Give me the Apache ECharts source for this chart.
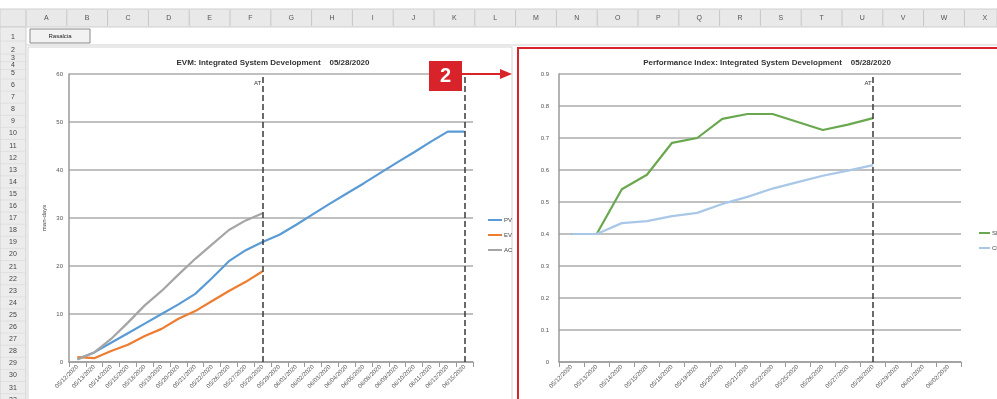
<!DOCTYPE html>
<html><head><meta charset="utf-8">
<script src="https://cdn.jsdelivr.net/npm/echarts@6/dist/echarts.min.js"></script>
<style>html,body{margin:0;padding:0;background:#fff;overflow:hidden}#c{width:997px;height:399px}</style>
</head><body><div id="c"></div>
<script>
// ---- data ----
const evmDates = ['05/12/2020','05/13/2020','05/14/2020','05/15/2020','05/18/2020','05/19/2020','05/20/2020','05/21/2020','05/22/2020','05/26/2020','05/27/2020','05/28/2020','05/29/2020','06/01/2020','06/02/2020','06/03/2020','06/04/2020','06/05/2020','06/08/2020','06/09/2020','06/10/2020','06/11/2020','06/12/2020','06/15/2020'];
const pv = [0.6, 2.0, 4.0, 6.0, 8.0, 10.0, 12.0, 14.2, 17.5, 21.0, 23.3, 25.0, 26.5, 28.6, 30.8, 33.0, 35.1, 37.2, 39.4, 41.6, 43.7, 45.9, 48.0, 48.0];
const ev = [1.0, 0.8, 2.3, 3.6, 5.4, 6.9, 9.0, 10.6, 12.7, 14.8, 16.7, 18.9];
const ac = [0.5, 2.0, 4.8, 8.2, 11.8, 14.8, 18.2, 21.5, 24.5, 27.5, 29.5, 31.0];
const piDates = ['05/12/2020','05/13/2020','05/14/2020','05/15/2020','05/18/2020','05/19/2020','05/20/2020','05/21/2020','05/22/2020','05/25/2020','05/26/2020','05/27/2020','05/28/2020','05/29/2020','06/01/2020','06/02/2020'];
const spi = [0.4, 0.4, 0.54, 0.585, 0.685, 0.70, 0.76, 0.775, 0.775, 0.75, 0.725, 0.742, 0.762];
const cpi = [0.4, 0.4, 0.434, 0.44, 0.456, 0.466, 0.494, 0.516, 0.542, 0.562, 0.582, 0.598, 0.615];
const statusDate = '05/28/2020';
const evmEndDate = '06/15/2020';
const columnLetters = ['A','B','C','D','E','F','G','H','I','J','K','L','M','N','O','P','Q','R','S','T','U','V','W','X'];
const rowNumbers = [1,2,3,4,5,6,7,8,9,10,11,12,13,14,15,16,17,18,19,20,21,22,23,24,25,26,27,28,29,30,31,32];
const evmTitle = 'EVM: Integrated System Development    05/28/2020';
const piTitle = 'Performance Index: Integrated System Development    05/28/2020';
const buttonText = 'Rasalcia';

// ---- spreadsheet frame ----
const FONT = 'Liberation Sans, Arial, sans-serif';
const g = [];
g.push({type:'rect', shape:{x:0,y:9,width:997,height:18}, style:{fill:'#e9e9e9', stroke:'#cfcfcf', lineWidth:1}, silent:true});
g.push({type:'rect', shape:{x:0,y:27,width:26,height:380}, style:{fill:'#ececec', stroke:'#cfcfcf', lineWidth:1}, silent:true});
columnLetters.forEach((L,i)=>{
  const x0 = 26 + i*40.8;
  g.push({type:'line', shape:{x1:x0,y1:10,x2:x0,y2:26}, style:{stroke:'#c6c6c6', lineWidth:1}, silent:true});
  g.push({type:'text', x:x0+20.4, y:18, style:{text:L, fill:'#555', font:'7px '+FONT, textAlign:'center', textVerticalAlign:'middle'}, silent:true});
});
rowNumbers.forEach(n=>{
  let y;
  if (n===1) y=37; else if (n<=5) y = 50 + (n-2)*7.7; else y = 73 + (n-5)*12.1;
  g.push({type:'text', x:13, y:y, style:{text:String(n), fill:'#444', font:'7px '+FONT, textAlign:'center', textVerticalAlign:'middle'}, silent:true});
  g.push({type:'line', shape:{x1:0,y1:y+(n<5?4:6),x2:26,y2:y+(n<5?4:6)}, style:{stroke:'#d6d6d6', lineWidth:0.6}, silent:true});
});
g.push({type:'line', shape:{x1:26,y1:45,x2:997,y2:45}, style:{stroke:'#d0d0d0', lineWidth:1}, silent:true});
g.push({type:'rect', shape:{x:30,y:29,width:60,height:14}, style:{fill:'#f2f2f2', stroke:'#8a8a8a', lineWidth:1}, silent:true});
g.push({type:'text', x:60, y:36, style:{text:buttonText, fill:'#222', font:'6px '+FONT, textAlign:'center', textVerticalAlign:'middle'}, silent:true});
// chart areas
g.push({type:'rect', shape:{x:28,y:47,width:484,height:360}, style:{fill:'#fff', stroke:'#d4d4d4', lineWidth:1}, silent:true});
g.push({type:'rect', shape:{x:518,y:48,width:485,height:360}, style:{fill:'#fff', stroke:'#d8232a', lineWidth:2}, silent:true});
// callout "2"
g.push({type:'rect', z:100, shape:{x:429,y:61,width:33,height:30}, style:{fill:'#d8232a'}, silent:true});
g.push({type:'text', z:101, x:445.5, y:76, style:{text:'2', fill:'#fff', font:'bold 20px '+FONT, textAlign:'center', textVerticalAlign:'middle'}, silent:true});
g.push({type:'line', z:100, shape:{x1:462,y1:74,x2:503,y2:74}, style:{stroke:'#d8232a', lineWidth:2}, silent:true});
g.push({type:'polygon', z:100, shape:{points:[[500,69],[512,74],[500,79]]}, style:{fill:'#d8232a'}, silent:true});

const axisLabelStyle = {fontSize:6, color:'#555', fontFamily:FONT};
const gridLine = {lineStyle:{color:'#ababab', width:1.5}};
const atLine = {lineStyle:{type:'dashed', color:'#3a3a3a', width:1.5}};

const option = {
  animation:false,
  backgroundColor:'#fff',
  textStyle:{fontFamily:FONT},
  graphic:g,
  title:[
    {text:evmTitle, left:268, top:54, textAlign:'center', textStyle:{fontSize:8, fontWeight:'bold', color:'#333', fontFamily:FONT}},
    {text:piTitle, left:762, top:54, textAlign:'center', textStyle:{fontSize:8, fontWeight:'bold', color:'#333', fontFamily:FONT}}
  ],
  legend:[
    {orient:'vertical', left:483, top:212, itemWidth:14, itemHeight:2, itemGap:9, icon:'rect', data:['PV','EV','AC'], textStyle:{fontSize:6, color:'#444', padding:[0,0,0,-3]}},
    {orient:'vertical', left:974, top:225, itemWidth:11, itemHeight:2, itemGap:9, icon:'rect', data:['SPI','CPI'], textStyle:{fontSize:6, color:'#444', padding:[0,0,0,-3]}}
  ],
  grid:[
    {left:69, top:74, width:404, height:288},
    {left:559, top:74, width:402, height:288}
  ],
  xAxis:[
    {type:'category', gridIndex:0, data:evmDates, boundaryGap:true,
     axisLine:{lineStyle:{color:'#9a9a9a', width:1.5}}, axisTick:{show:true, lineStyle:{color:'#9a9a9a'}},
     axisLabel:Object.assign({interval:0, rotate:45, margin:4}, axisLabelStyle)},
    {type:'category', gridIndex:1, data:piDates, boundaryGap:true,
     axisLine:{lineStyle:{color:'#9a9a9a', width:1.5}}, axisTick:{show:true, lineStyle:{color:'#9a9a9a'}},
     axisLabel:Object.assign({interval:0, rotate:45, margin:4}, axisLabelStyle)}
  ],
  yAxis:[
    {type:'value', gridIndex:0, min:0, max:60, interval:10, name:'man-days', nameLocation:'middle', nameGap:22, nameRotate:90,
     nameTextStyle:{fontSize:6, color:'#444'},
     axisLine:{show:true, lineStyle:{color:'#9a9a9a', width:1.5}}, splitLine:gridLine,
     axisLabel:Object.assign({margin:6}, axisLabelStyle)},
    {type:'value', gridIndex:1, min:0, max:0.9, interval:0.1,
     axisLine:{show:true, lineStyle:{color:'#9a9a9a', width:1.5}}, splitLine:gridLine,
     axisLabel:Object.assign({margin:10, formatter:v=> v===0 ? '0' : v.toFixed(1)}, axisLabelStyle)}
  ],
  series:[
    {name:'PV', type:'line', xAxisIndex:0, yAxisIndex:0, data:pv, showSymbol:false, color:'#5b9bd5', lineStyle:{width:2.2},
     markLine:{silent:true, symbol:['none','none'], lineStyle:atLine.lineStyle,
       label:{show:true, position:'end', formatter:'AT      ', fontSize:6, color:'#333', distance:-12},
       data:[{xAxis:statusDate}, {xAxis:evmEndDate, label:{show:false}}]}},
    {name:'EV', type:'line', xAxisIndex:0, yAxisIndex:0, data:ev, showSymbol:false, color:'#ed7d31', lineStyle:{width:2.2}},
    {name:'AC', type:'line', xAxisIndex:0, yAxisIndex:0, data:ac, showSymbol:false, color:'#a5a5a5', lineStyle:{width:2.2}},
    {name:'SPI', type:'line', xAxisIndex:1, yAxisIndex:1, data:spi, showSymbol:false, color:'#6aa84f', lineStyle:{width:2.2},
     markLine:{silent:true, symbol:['none','none'], lineStyle:atLine.lineStyle,
       label:{show:true, position:'end', formatter:'AT      ', fontSize:6, color:'#333', distance:-12},
       data:[{xAxis:statusDate}]}},
    {name:'CPI', type:'line', xAxisIndex:1, yAxisIndex:1, data:cpi, showSymbol:false, color:'#a9c8e8', lineStyle:{width:2.2}}
  ]
};
const chart = echarts.init(document.getElementById('c'), null, {renderer:'canvas'});
chart.setOption(option);
</script>
</body></html>
